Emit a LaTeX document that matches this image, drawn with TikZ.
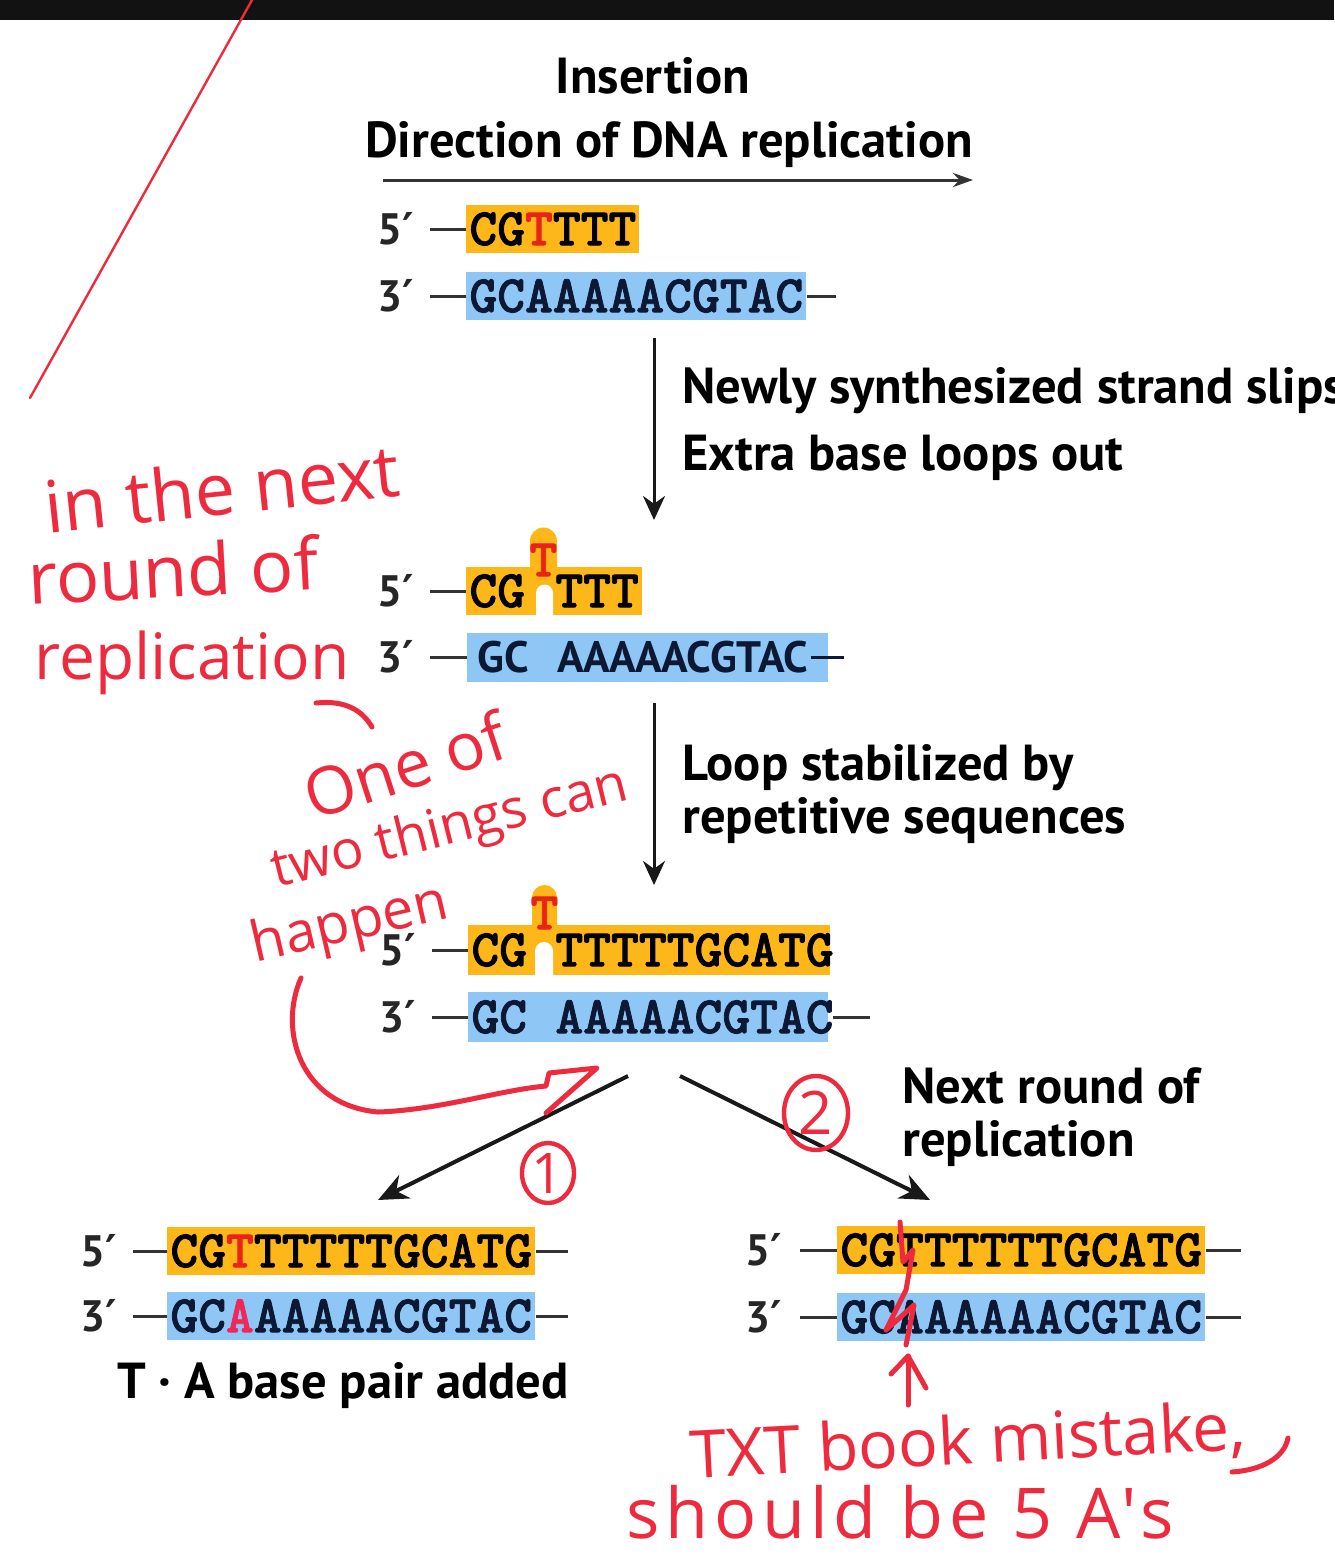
\documentclass[tikz,border=0pt]{standalone}
\usepackage{fontspec}
\setmainfont{PT Sans}
\newfontfamily\primefont{DejaVu Sans}
\newfontfamily\handfont{Open Sans}
\newfontfamily\seqfont{lmmonolt10-bold.otf}[FakeBold=1.5]
\usetikzlibrary{arrows.meta, positioning, shapes.geometric}
\definecolor{strandorange}{RGB}{253,183,25}
\definecolor{strandblue}{RGB}{142,199,245}
\definecolor{strandnavy}{RGB}{12,24,52}
\definecolor{baseRed}{RGB}{232,36,24}
\definecolor{basePink}{RGB}{240,40,90}
\definecolor{inkred}{RGB}{238,42,62}
\newcommand{\pr}{{\primefont\bfseries ′}}

\begin{document}
\begin{tikzpicture}[
  x=0.5pt, y=-0.5pt,
  seqtxt/.style={font=\seqfont\fontsize{26.5}{28}\selectfont, text=black, inner sep=0pt},
  strandtop/.style={seqtxt, fill=strandorange, inner xsep=1.5pt, minimum height=24pt},
  strandbot/.style={strandtop, fill=strandblue, text=strandnavy},
  endlab/.style={font=\bfseries\fontsize{22}{24}\selectfont, text=black!85, inner sep=0pt},
  strand/.style={line width=1.5pt, black!80},
  caption/.style={font=\bfseries\fontsize{25.3}{28}\selectfont, inner sep=0pt},
  flow/.style={line width=1.5pt, black!90, -{Stealth[length=12pt, width=11pt]}},
  ink/.style={draw=inkred, line width=2.5pt, line cap=round, line join=round},
  inktext/.style={text=inkred, font=\handfont\fontsize{36}{40}\selectfont, inner sep=0pt}
]
  \useasboundingbox (0,0) rectangle (1334,1564);
  \fill[white] (0,0) rectangle (1334,1564);
  \fill[black!93] (0,0) rectangle (1334,20);

  % Headings
  \node[caption, anchor=base] (title) at (653,93) {Insertion};
  \node[caption, anchor=base] (direction) at (669,157) {Direction of DNA replication};
  \coordinate (dirL) at (383,180);
  \coordinate (dirR) at (973,180);
  \draw[line width=1.5pt, black!80, -{Stealth[length=10pt, width=7pt]}] (dirL) -- (dirR);

  % Step 1: primer and template
  \node[strandtop, anchor=west] (s1top) at (466,229) {CG\textcolor{baseRed}{T}TTT};
  \node[strandbot, anchor=west] (s1bot) at (466,296) {GCAAAAACGTAC};
  \draw[strand] (s1top.west) -- ++(-36,0) node[endlab, left=7pt] (p1top) {5\pr};
  \draw[strand] (s1bot.west) -- ++(-36,0) node[endlab, left=7pt] (p1bot) {3\pr};
  \draw[strand] (s1bot.east) -- ++(29,0);

  % Slip arrow
  \coordinate (slipA) at (654,338);
  \coordinate (slipB) at (654,520);
  \draw[flow] (slipA) -- (slipB);
  \node[caption, anchor=base west] (slip1) at (682,403) {Newly synthesized strand slips};
  \node[caption, anchor=base west] (slip2) at (682,470) {Extra base loops out};

  % Step 2: loop out
  \fill[strandorange] (466,567) rectangle (642,615);
  \fill[strandorange] (530,567) -- (530,541) arc[start angle=180, end angle=0, radius=6.75pt] -- (557,567) -- cycle;
  \fill[white] (536,616) -- (536,593) arc[start angle=180, end angle=0, radius=4.25pt] -- (553,616) -- cycle;
  \coordinate (s2top) at (466,591);
  \node[seqtxt, anchor=west] (s2cg) at (469,591) {CG};
  \node[seqtxt, anchor=west] (s2ttt) at (555,591) {TTT};
  \node[seqtxt, text=baseRed] (s2loop) at (543.5,560) {T};
  \fill[strandblue] (467,633) rectangle (828,682);
  \coordinate (s2bot) at (467,657);
  \node[font=\bfseries\fontsize{22}{24}\selectfont, text=strandnavy, inner sep=0pt, anchor=west] (s2gc) at (477,657) {GC};
  \node[font=\bfseries\fontsize{22}{24}\selectfont, text=strandnavy, inner sep=0pt, anchor=west] (s2tail) at (557,657) {AAAAACGTAC};
  \draw[strand] (s2top) -- ++(-36,0) node[endlab, left=7pt] (p2top) {5\pr};
  \draw[strand] (s2bot) -- ++(-37,0) node[endlab, left=7pt] (p2bot) {3\pr};
  \draw[strand, strandnavy] (s2tail.east) ++(2,0) -- ++(33,0);

  % Stabilize arrow
  \coordinate (stabA) at (654,703);
  \coordinate (stabB) at (654,885);
  \draw[flow] (stabA) -- (stabB);
  \node[caption, anchor=base west] (stab1) at (682,780) {Loop stabilized by};
  \node[caption, anchor=base west] (stab2) at (682,833) {repetitive sequences};

  % Step 3: extension past the loop
  \fill[strandorange] (468,925) rectangle (830,975);
  \fill[strandorange] (532,925) -- (532,897.5) arc[start angle=180, end angle=0, radius=6.25pt] -- (557,925) -- cycle;
  \fill[white] (535,976) -- (535,951) arc[start angle=180, end angle=0, radius=4.5pt] -- (553,976) -- cycle;
  \coordinate (s3top) at (468,950);
  \node[seqtxt, anchor=west] (s3cg) at (471,950) {CG};
  \node[seqtxt, anchor=west] (s3tail) at (555,950) {TTTTTGCATG};
  \node[seqtxt, text=baseRed] (s3loop) at (544.5,913) {T};
  \fill[strandblue] (468,992) rectangle (828,1042);
  \coordinate (s3bot) at (468,1017);
  \node[seqtxt, text=strandnavy, anchor=west] (s3gc) at (471,1017) {GC};
  \node[seqtxt, text=strandnavy, anchor=west] (s3tailb) at (555,1017) {AAAAACGTAC};
  \draw[strand] (s3top) -- ++(-36,0) node[endlab, left=7pt] (p3top) {5\pr};
  \draw[strand] (s3bot) -- ++(-36,0) node[endlab, left=7pt] (p3bot) {3\pr};
  \draw[strand] (833,1017) -- (870,1017);

  % Two outcomes
  \coordinate (forkL) at (628,1076);
  \coordinate (forkR) at (680,1076);
  \coordinate (outL) at (378,1200);
  \coordinate (outR) at (930,1200);
  \draw[flow, line width=2pt, -{Stealth[length=15pt, width=13pt]}] (forkL) -- (outL);
  \draw[flow, line width=2pt, -{Stealth[length=15pt, width=13pt]}] (forkR) -- (outR);
  \node[caption, anchor=base west] (next1) at (902,1103) {Next round of};
  \node[caption, anchor=base west] (next2) at (902,1156) {replication};

  % Outcome 1: insertion
  \node[strandtop, anchor=west] (s4top) at (167,1251) {CG\textcolor{baseRed}{T}TTTTTGCATG};
  \node[strandbot, anchor=west] (s4bot) at (167,1316) {GC\textcolor{basePink}{A}AAAAACGTAC};
  \draw[strand] (s4top.west) -- ++(-34,0) node[endlab, left=7pt] (p4top) {5\pr};
  \draw[strand] (s4bot.west) -- ++(-34,0) node[endlab, left=7pt] (p4bot) {3\pr};
  \draw[strand] (s4top.east) -- ++(32,0);
  \draw[strand] (s4bot.east) -- ++(32,0);
  \node[caption, anchor=base] (added) at (343,1398) {T · A base pair added};

  % Outcome 2
  \node[strandtop, anchor=west] (s5top) at (837,1250) {CGTTTTTTGCATG};
  \node[strandbot, anchor=west] (s5bot) at (837,1317) {GCAAAAAACGTAC};
  \draw[strand] (s5top.west) -- ++(-37,0) node[endlab, left=8pt] (p5top) {5\pr};
  \draw[strand] (s5bot.west) -- ++(-37,0) node[endlab, left=8pt] (p5bot) {3\pr};
  \draw[strand] (s5top.east) -- ++(35,0);
  \draw[strand] (s5bot.east) -- ++(35,0);

  % Handwritten notes
  \draw[ink, line width=1.2pt] (30,398) -- (252,0);
  \node[inktext, rotate=6] (note1) at (222,488) {in the next};
  \node[inktext, rotate=3] (note2) at (173,570) {round of};
  \node[inktext, font=\handfont\fontsize{32}{36}\selectfont] (note3) at (192,663) {replication};
  \draw[ink] (316,703) .. controls (345,700) and (362,710) .. (372,727);
  \node[inktext, rotate=18, font=\handfont\fontsize{33}{36}\selectfont] (note4) at (405,765) {One of};
  \node[inktext, rotate=14, font=\handfont\fontsize{27}{30}\selectfont] (note5) at (450,830) {two things can};
  \node[inktext, rotate=13, font=\handfont\fontsize{28}{30}\selectfont] (note6) at (350,926) {happen};
  \draw[ink] (301,978) .. controls (278,1030) and (300,1105) .. (378,1112)
    .. controls (440,1110) and (500,1090) .. (546,1086) -- (549,1073) -- (597,1068) -- (546,1113);
  \node[draw=inkred, line width=2.2pt, ellipse, minimum width=26pt, minimum height=30pt, inner sep=0pt,
        text=inkred, font=\handfont\fontsize{28}{30}\selectfont] (num1) at (548,1173) {1};
  \node[draw=inkred, line width=2.2pt, ellipse, minimum width=32pt, minimum height=37pt, inner sep=0pt,
        text=inkred, font=\handfont\fontsize{30}{32}\selectfont] (num2) at (816,1113) {2};
  \draw[ink] (900,1222) -- (903,1262) -- (913,1250) -- (906,1290) -- (886,1330) -- (914,1305) -- (906,1345);
  \coordinate (mistakeFoot) at (908,1405);
  \coordinate (mistakeTip) at (908,1356);
  \draw[ink] (mistakeFoot) -- (mistakeTip);
  \draw[ink] (891,1374) -- (mistakeTip) -- (926,1388);
  \node[inktext, rotate=3, font=\handfont\fontsize{33}{36}\selectfont] (note7) at (968,1443) {TXT book mistake,};
  \draw[ink] (1232,1472) .. controls (1262,1470) and (1284,1458) .. (1288,1438);
  \node[inktext, font=\handfont\fontsize{35}{40}\selectfont\addfontfeature{LetterSpace=8}] (note8) at (900,1512) {should be 5 A's};
\end{tikzpicture}
\end{document}
